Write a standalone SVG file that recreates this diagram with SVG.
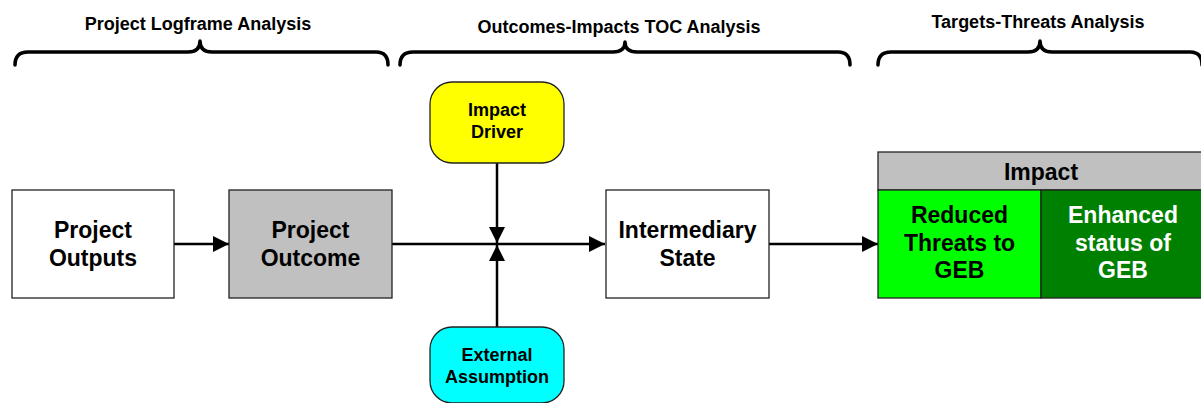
<svg xmlns="http://www.w3.org/2000/svg" width="1201" height="403" viewBox="0 0 1201 403">
  <defs>
    <style>
      text { font-family: "Liberation Sans", Arial, sans-serif; font-weight: bold; text-anchor: middle; fill: #000; }
      .title { font-size: 18px; }
      .big { font-size: 23px; }
      .small { font-size: 18px; }
      .white { fill: #fff; }
      .box { stroke: #222; stroke-width: 1.3; }
      .brace { fill: none; stroke: #000; stroke-width: 3.5; stroke-linecap: round; stroke-linejoin: round; }
      .link { fill: none; stroke: #000; stroke-width: 2.5; }
    </style>
    <marker id="arrow" viewBox="0 0 16 16" refX="16" refY="8" markerWidth="16" markerHeight="16" markerUnits="userSpaceOnUse" orient="auto">
      <path d="M0,0 L16,8 L0,16 Z" fill="#000"/>
    </marker>
  </defs>

  <!-- section headings with braces -->
  <g id="heading-logframe">
    <text class="title" x="198" y="30">Project Logframe Analysis</text>
    <path class="brace" d="M15,65 Q15,52 28,52 L188,52 Q200,52 200,41 Q200,52 212,52 L376,52 Q388,52 388,65"/>
  </g>
  <g id="heading-toc">
    <text class="title" x="619" y="33">Outcomes-Impacts TOC Analysis</text>
    <path class="brace" d="M400,65 Q400,52 413,52 L613,52 Q625,52 625,42 Q625,52 637,52 L838,52 Q850,52 850,65"/>
  </g>
  <g id="heading-threats">
    <text class="title" x="1038" y="28">Targets-Threats Analysis</text>
    <path class="brace" d="M878,65 Q878,52 891,52 L1028,52 Q1040,52 1040,41 Q1040,52 1052,52 L1190,52 Q1202,52 1202,65"/>
  </g>

  <!-- connectors -->
  <g id="connectors">
    <line class="link" x1="174" y1="244" x2="229" y2="244" marker-end="url(#arrow)"/>
    <line class="link" x1="392" y1="244" x2="605" y2="244" marker-end="url(#arrow)"/>
    <line class="link" x1="497" y1="163" x2="497" y2="243" marker-end="url(#arrow)"/>
    <line class="link" x1="497" y1="327" x2="497" y2="245" marker-end="url(#arrow)"/>
    <line class="link" x1="769" y1="244" x2="878" y2="244" marker-end="url(#arrow)"/>
  </g>

  <g id="project-outputs">
    <rect class="box" x="12" y="190" width="162" height="108" fill="#fff"/>
    <text class="big" x="93" y="238">Project</text>
    <text class="big" x="93" y="266">Outputs</text>
  </g>

  <g id="project-outcome">
    <rect class="box" x="229" y="190" width="163" height="108" fill="#c0c0c0"/>
    <text class="big" x="310.5" y="238">Project</text>
    <text class="big" x="310.5" y="266">Outcome</text>
  </g>

  <g id="impact-driver">
    <rect class="box" x="430" y="82" width="134" height="81" rx="22" ry="22" fill="#ffff00"/>
    <text class="small" x="497" y="116">Impact</text>
    <text class="small" x="497" y="138">Driver</text>
  </g>

  <g id="external-assumption">
    <rect class="box" x="430" y="327" width="134" height="76" rx="22" ry="22" fill="#00ffff"/>
    <text class="small" x="497" y="361">External</text>
    <text class="small" x="497" y="383">Assumption</text>
  </g>

  <g id="intermediary-state">
    <rect class="box" x="606" y="190" width="163" height="108" fill="#fff"/>
    <text class="big" x="687.5" y="238">Intermediary</text>
    <text class="big" x="687.5" y="266">State</text>
  </g>

  <g id="impact">
    <rect class="box" x="878" y="152" width="327" height="38" fill="#c0c0c0"/>
    <text class="big" x="1041" y="180">Impact</text>
    <rect class="box" x="878" y="190" width="163" height="108" fill="#00ff00"/>
    <text class="big" x="959.5" y="223">Reduced</text>
    <text class="big" x="959.5" y="251">Threats to</text>
    <text class="big" x="959.5" y="278">GEB</text>
    <rect class="box" x="1041" y="190" width="164" height="108" fill="#008000"/>
    <text class="big white" x="1123" y="223">Enhanced</text>
    <text class="big white" x="1123" y="251">status of</text>
    <text class="big white" x="1123" y="278">GEB</text>
  </g>
</svg>
